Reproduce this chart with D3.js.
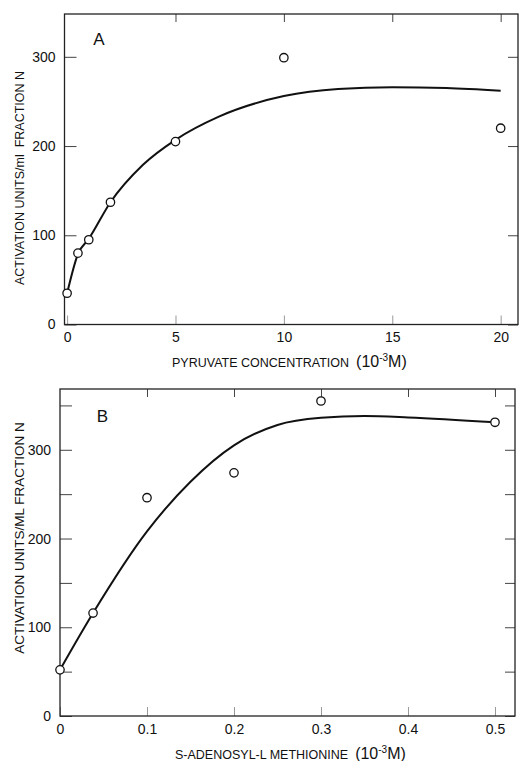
<!DOCTYPE html>
<html>
<head>
<meta charset="utf-8">
<script src="https://cdn.jsdelivr.net/npm/d3@7"></script>
<style>
  body { margin: 0; background: white; }
  text { font-family: "Liberation Sans", Arial, sans-serif; fill: #111; white-space: pre; }
</style>
</head>
<body>
<script>
// panel A: pyruvate
let aPointX = [0, 0.5, 1, 2, 5, 10, 20];
let aPointY = [35, 80, 95, 137, 205, 299, 220];
let aCurveX = [0, 0.5, 1, 2, 3.5, 5, 7, 10, 12.5, 15, 17.5, 20];
let aCurveY = [35, 79, 96, 137, 179, 207, 233, 256, 264, 266, 265, 262];
let aXTicks = [0, 5, 10, 15, 20];
let aYTicks = [0, 100, 200, 300];

// panel B: S-adenosyl-L methionine
let bPointX = [0, 0.038, 0.1, 0.2, 0.3, 0.5];
let bPointY = [52, 116, 246, 274, 355, 331];
let bCurveX = [0, 0.038, 0.1, 0.15, 0.2, 0.25, 0.3, 0.35, 0.4, 0.5];
let bCurveY = [52, 116, 208, 264, 305, 328, 336, 338, 336.5, 331];
let bXTicks = [0, 0.1, 0.2, 0.3, 0.4, 0.5];
let bYTicks = [0, 50, 100, 150, 200, 250, 300, 350];
let bYLabels = [0, 100, 200, 300];

let width = 520;
let height = 761;

let svg = d3.select("body").append("svg")
    .attr("width", width)
    .attr("height", height)
    .style("background-color", "white");

function drawPanel(p) {
    let x = d3.scaleLinear().domain(p.xDomain).range([p.left, p.right]);
    let y = d3.scaleLinear().domain(p.yDomain).range([p.bottom, p.top]);
    let g = svg.append("g");

    // ticks on all four sides, pointing inward
    g.append("g").attr("transform", "translate(" + p.left + ",0)")
        .call(d3.axisLeft(y).tickValues(p.yTicks).tickSize(-12).tickPadding(9)
            .tickFormat(d => p.yLabels.includes(d) ? String(d) : ""));
    g.append("g").attr("transform", "translate(" + p.right + ",0)")
        .call(d3.axisRight(y).tickValues(p.yTicks).tickSize(-10).tickFormat(""));
    g.append("g").attr("transform", "translate(0," + p.top + ")")
        .call(d3.axisTop(x).tickValues(p.xTicks.slice(1)).tickSize(-8).tickFormat(""));
    g.append("g").attr("class", "xb").attr("transform", "translate(0," + p.bottom + ")")
        .call(d3.axisBottom(x).tickValues(p.xTicks).tickSize(-9).tickPadding(8)
            .tickFormat(d => String(d)));

    g.selectAll(".domain").remove();
    g.selectAll(".tick line").attr("stroke", "#444").attr("stroke-width", 1);
    g.selectAll(".xb .tick line").attr("stroke", "#999");
    g.selectAll(".tick text").style("font-family", "Liberation Sans, Arial, sans-serif")
        .style("font-size", "14px").attr("fill", "#111");

    // frame
    g.append("rect")
        .attr("x", p.left).attr("y", p.top)
        .attr("width", p.right - p.left).attr("height", p.bottom - p.top)
        .attr("fill", "none").attr("stroke", "#222").attr("stroke-width", 1.3);

    // fitted curve
    let pts = p.curveX.map((v, i) => [v, p.curveY[i]]);
    let line = d3.line()
        .x(d => x(d[0])).y(d => y(d[1]))
        .curve(d3.curveMonotoneX);
    g.append("path").attr("d", line(pts))
        .attr("fill", "none").attr("stroke", "#111").attr("stroke-width", 2);

    // data points
    let data = p.pointX.map((v, i) => [v, p.pointY[i]]);
    g.selectAll("circle.pt").data(data).enter().append("circle")
        .attr("class", "pt")
        .attr("cx", d => x(d[0])).attr("cy", d => y(d[1]))
        .attr("r", 4.2)
        .attr("fill", "white").attr("stroke", "#111").attr("stroke-width", 1.3);

    // panel letter
    g.append("text").attr("x", p.letterX).attr("y", p.letterY)
        .attr("text-anchor", "middle").style("font-size", "17px").text(p.letter);

    // y title
    g.append("text")
        .attr("transform", "translate(24," + p.yTitleY + ") rotate(-90)")
        .attr("text-anchor", "middle")
        .style("font-size", p.yTitleSize)
        .text(p.yTitle);

    // x title with (10^-3 M)
    let t = g.append("text").attr("x", p.xTitleX).attr("y", p.xTitleBase)
        .style("font-size", "12.5px");
    t.append("tspan").text(p.xTitle + "  ");
    t.append("tspan").style("font-size", "16px").style("font-weight", "500").text("(10");
    t.append("tspan").style("font-size", "10px").attr("dy", -6).text("-3");
    t.append("tspan").style("font-size", "16px").style("font-weight", "500").attr("dy", 6).text("M)");
}

drawPanel({
    left: 64.5, right: 518, top: 14, bottom: 324.5,
    xDomain: [-0.12, 20.8], yDomain: [0, 348],
    xTicks: aXTicks, yTicks: aYTicks, yLabels: aYTicks,
    pointX: aPointX, pointY: aPointY, curveX: aCurveX, curveY: aCurveY,
    letter: "A", letterX: 99, letterY: 45,
    yTitle: "ACTIVATION UNITS/ml  FRACTION N", yTitleY: 178, yTitleSize: "12.5px",
    xTitle: "PYRUVATE CONCENTRATION", xTitleX: 172, xTitleBase: 367
});

drawPanel({
    left: 60, right: 515, top: 389, bottom: 716,
    xDomain: [0, 0.523], yDomain: [0, 368.5],
    xTicks: bXTicks, yTicks: bYTicks, yLabels: bYLabels,
    pointX: bPointX, pointY: bPointY, curveX: bCurveX, curveY: bCurveY,
    letter: "B", letterX: 102.5, letterY: 422,
    yTitle: "ACTIVATION UNITS/ML FRACTION N", yTitleY: 538, yTitleSize: "13.5px",
    xTitle: "S-ADENOSYL-L METHIONINE", xTitleX: 175, xTitleBase: 759
});
</script>
</body>
</html>
